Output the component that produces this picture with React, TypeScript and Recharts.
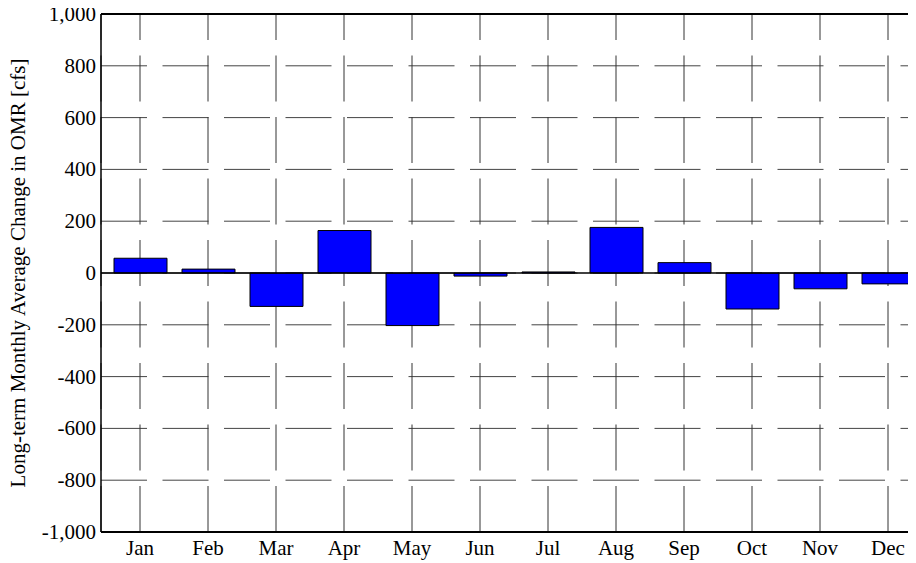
import React from "react";
import { BarChart, Bar, XAxis, YAxis, CartesianGrid, ReferenceLine, Label } from "recharts";

const months = ["Jan", "Feb", "Mar", "Apr", "May", "Jun", "Jul", "Aug", "Sep", "Oct", "Nov", "Dec"];
const changeValues = [57, 15, -129, 164, -203, -12, 4, 176, 40, -139, -61, -42];
const yTicks = [-1000, -800, -600, -400, -200, 0, 200, 400, 600, 800, 1000];
const yLabel = "Long-term Monthly Average Change in OMR [cfs]";

const data = months.map((m, i) => ({ month: m, value: changeValues[i] }));

const FONT = "'Liberation Serif', 'Times New Roman', serif";
const FS = 21;

const hLine = (p: any) => (
  <line
    key={`h-${p.index}-${p.y1}`}
    x1={p.x1}
    y1={p.y1}
    x2={p.x2}
    y2={p.y2}
    stroke="#444"
    strokeWidth={1}
    strokeDasharray="46 15.5"
  />
);

const vLine = (p: any) => (
  <line
    key={`v-${p.index}-${p.x1}`}
    x1={p.x1}
    y1={p.y1}
    x2={p.x2}
    y2={p.y2}
    stroke="#333"
    strokeWidth={1}
    strokeDasharray="46 15.5"
    strokeDashoffset={20}
  />
);

const YTick = (p: any) => (
  <text
    x={p.x + 3}
    y={p.y}
    dy={7}
    textAnchor="end"
    style={{ fontFamily: FONT, fontSize: FS, fill: "#000" }}
  >
    {Number(p.payload.value).toLocaleString("en-US")}
  </text>
);

const XTick = (p: any) => (
  <text
    x={p.x}
    y={p.y}
    dy={15}
    textAnchor="middle"
    style={{ fontFamily: FONT, fontSize: FS, fill: "#000" }}
  >
    {p.payload.value}
  </text>
);

const YLabelContent = (p: any) => {
  const vb = p.viewBox || {};
  const cy = (vb.y ?? 14) + (vb.height ?? 518) / 2;
  const cx = 18;
  return (
    <text
      x={cx}
      y={cy}
      transform={`rotate(-90, ${cx}, ${cy})`}
      textAnchor="middle"
      dominantBaseline="central"
      style={{ fontFamily: FONT, fontSize: FS, fill: "#000" }}
    >
      {yLabel}
    </text>
  );
};

export default function App() {
  return (
    <div style={{ marginLeft: -8, marginTop: -8, width: 916, height: 563, overflow: "hidden", position: "relative" }}>
      <BarChart
        width={926}
        height={563}
        data={data}
        margin={{ top: 14, right: 4, bottom: 1, left: 0 }}
        barSize={53}
      >
        <CartesianGrid horizontal={hLine} vertical={vLine} />
        <XAxis
          dataKey="month"
          padding={{ left: 5, right: 0 }}
          axisLine={{ stroke: "#000", strokeWidth: 2 }}
          tickLine={false}
          tickMargin={2}
          height={30}
          tick={<XTick />}
          interval={0}
        />
        <YAxis
          width={101}
          domain={[-1000, 1000]}
          ticks={yTicks}
          interval={0}
          axisLine={{ stroke: "#000", strokeWidth: 1.5 }}
          tickLine={false}
          tickMargin={2}
          tick={<YTick />}
        >
          <Label content={<YLabelContent />} />
        </YAxis>
        <ReferenceLine y={1000} stroke="#000" strokeWidth={2} />
        <ReferenceLine y={0} stroke="#000" strokeWidth={1.5} />
        <Bar dataKey="value" fill="#0000FF" stroke="#000" strokeWidth={1} isAnimationActive={false} />
      </BarChart>
    </div>
  );
}
